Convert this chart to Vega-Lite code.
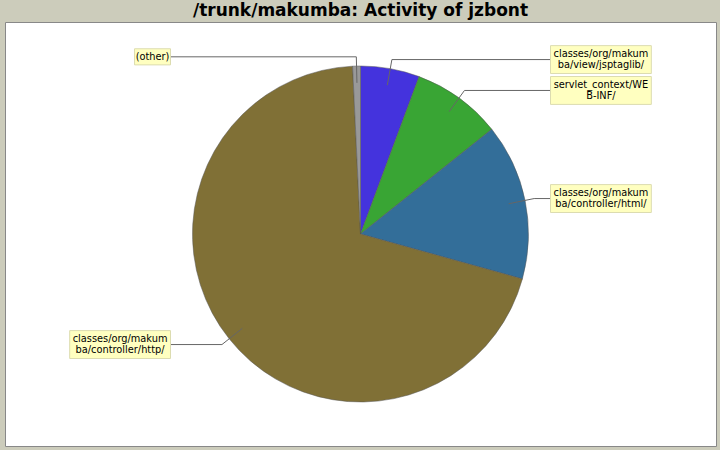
{
  "$schema": "https://vega.github.io/schema/vega-lite/v6.json",
  "autosize": "none",
  "width": 711,
  "height": 424,
  "padding": {"left": 5, "top": 22, "right": 4, "bottom": 4},
  "background": "#CCCCBB",
  "title": {
    "text": "/trunk/makumba: Activity of jzbont",
    "font": "DejaVu Sans",
    "fontSize": 17,
    "fontWeight": "bold",
    "color": "#000000",
    "anchor": "middle",
    "offset": 2
  },
  "config": {
    "view": {"fill": "#FFFFFF", "stroke": "#888888"}
  },
  "data": {
    "values": [
      {"dir": "classes/org/makumba/view/jsptaglib/", "label": "classes/org/makum\nba/view/jsptaglib/", "lines": 567, "order": 1},
      {"dir": "servlet_context/WEB-INF/", "label": "servlet_context/WE\nB-INF/", "lines": 861, "order": 2},
      {"dir": "classes/org/makumba/controller/html/", "label": "classes/org/makum\nba/controller/html/", "lines": 1503, "order": 3},
      {"dir": "classes/org/makumba/controller/http/", "label": "classes/org/makum\nba/controller/http/", "lines": 6994, "order": 4},
      {"dir": "(other)", "label": "(other)", "lines": 75, "order": 5}
    ]
  },
  "transform": [
    {"joinaggregate": [{"op": "sum", "field": "lines", "as": "total"}]},
    {"window": [{"op": "sum", "field": "lines", "as": "cum"}], "sort": [{"field": "order"}], "frame": [null, 0]},
    {"calculate": "2 * PI * (datum.cum - datum.lines / 2) / datum.total", "as": "mid"},
    {"calculate": "sin(datum.mid)", "as": "sx"},
    {"calculate": "cos(datum.mid)", "as": "cy"},
    {"calculate": "datum.sx >= 0 ? 1 : -1", "as": "side"},
    {"calculate": "0.9 * datum.sx", "as": "ax"},
    {"calculate": "0.9 * datum.cy", "as": "ay"},
    {"calculate": "1.055 * datum.sx", "as": "ex"},
    {"calculate": "1.055 * datum.cy", "as": "ey"},
    {"calculate": "indexof(datum.label, '\\n') >= 0", "as": "twoLines"},
    {"calculate": "1.131 * datum.side", "as": "bx"},
    {"calculate": "datum.bx + datum.side * (datum.twoLines ? 0.6 : 0.214)", "as": "bx2"},
    {"calculate": "(datum.bx + datum.bx2) / 2", "as": "tx"},
    {"calculate": "datum.ey + (datum.twoLines ? 0.032 : 0)", "as": "ty"},
    {"calculate": "datum.ey - (datum.twoLines ? 0.083 : 0.048)", "as": "by1"},
    {"calculate": "datum.ey + (datum.twoLines ? 0.083 : 0.048)", "as": "by2"}
  ],
  "layer": [
    {
      "mark": {"type": "arc", "radius": 168, "stroke": "#555555", "strokeWidth": 0.5},
      "encoding": {
        "theta": {"field": "lines", "type": "quantitative", "stack": true},
        "order": {"field": "order", "type": "quantitative"},
        "color": {
          "field": "dir",
          "type": "nominal",
          "legend": null,
          "scale": {
            "domain": ["classes/org/makumba/view/jsptaglib/", "servlet_context/WEB-INF/", "classes/org/makumba/controller/html/", "classes/org/makumba/controller/http/", "(other)"],
            "range": ["#4433DD", "#39A534", "#336E99", "#807036", "#999999"]
          }
        }
      }
    },
    {
      "mark": {"type": "rule", "color": "#666666", "strokeWidth": 1},
      "encoding": {
        "x": {"field": "ax", "type": "quantitative", "axis": null, "scale": {"domain": [-2.116, 2.116], "nice": false, "zero": false}},
        "y": {"field": "ay", "type": "quantitative", "axis": null, "scale": {"domain": [-1.262, 1.262], "nice": false, "zero": false}},
        "x2": {"field": "ex"},
        "y2": {"field": "ey"}
      }
    },
    {
      "mark": {"type": "rule", "color": "#666666", "strokeWidth": 1},
      "encoding": {
        "x": {"field": "ex", "type": "quantitative"},
        "x2": {"field": "bx"},
        "y": {"field": "ey", "type": "quantitative"}
      }
    },
    {
      "mark": {"type": "rect", "fill": "#FFFFC0", "stroke": "#DCDCB0", "strokeWidth": 1},
      "encoding": {
        "x": {"field": "bx", "type": "quantitative"},
        "x2": {"field": "bx2"},
        "y": {"field": "by1", "type": "quantitative"},
        "y2": {"field": "by2"}
      }
    },
    {
      "mark": {"type": "text", "font": "DejaVu Sans", "fontSize": 9.8, "lineHeight": 11, "lineBreak": "\n", "align": "center", "baseline": "middle", "color": "#000000"},
      "encoding": {
        "x": {"field": "tx", "type": "quantitative"},
        "y": {"field": "ty", "type": "quantitative"},
        "text": {"field": "label"}
      }
    }
  ]
}
